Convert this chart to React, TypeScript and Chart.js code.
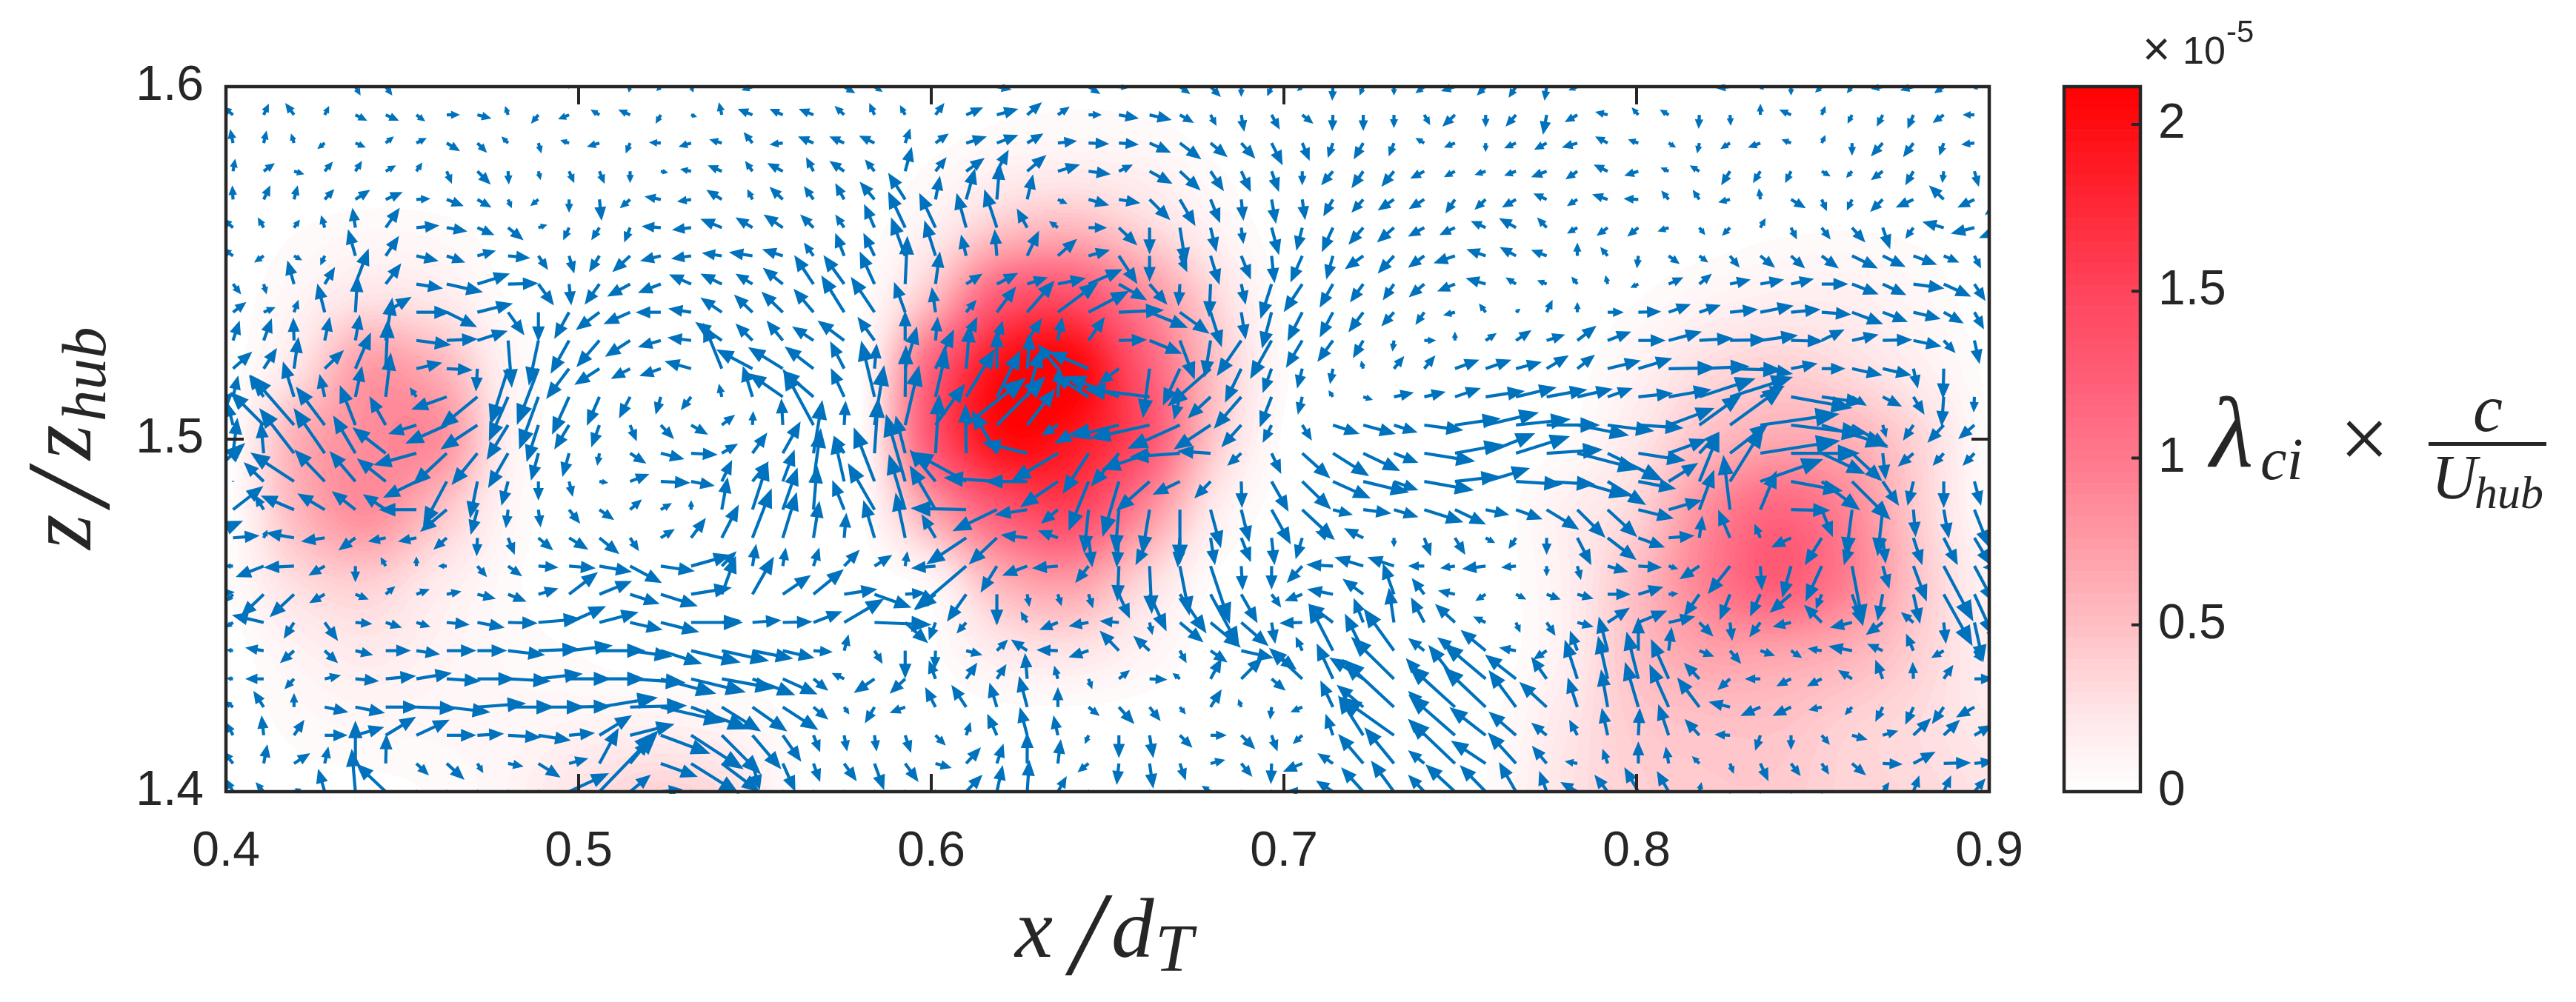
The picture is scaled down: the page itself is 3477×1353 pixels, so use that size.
import { useEffect, useRef } from "react";
import Chart from "chart.js/auto";

const W = 3477;
const H = 1353;

const xTicks = [0.4, 0.5, 0.6, 0.7, 0.8, 0.9];
const zTicks = [1.4, 1.5, 1.6];
const cbarTicks = [0, 0.5, 1, 1.5, 2];
const cbarMax = 2.113;

// colormap stops, value in 1e-5 units
const mapValues = [0, 0.25, 0.5, 0.75, 1, 1.25, 1.5, 1.75, 2, 2.113];
const mapGreens = [255, 228, 190, 155, 120, 92, 68, 40, 12, 0];
const mapBlues = [255, 230, 195, 165, 140, 118, 92, 55, 18, 0];

// vorticity field, rows from z = 1.60 down to 1.40, columns x = 0.40 .. 0.90
const heatX = [0.4, 0.42, 0.44, 0.46, 0.48, 0.5, 0.52, 0.54, 0.56, 0.58, 0.6, 0.62, 0.64, 0.66, 0.68, 0.7, 0.72, 0.74, 0.76, 0.78, 0.8, 0.82, 0.84, 0.86, 0.88, 0.9];
const heatZ = [1.6, 1.58, 1.56, 1.54, 1.52, 1.5, 1.48, 1.46, 1.44, 1.42, 1.4];
const heatRows = [
  [0, 0, 0, 0, 0, 0, 0, 0, 0, 0, 0, 0.01, 0.02, 0.01, 0, 0, 0, 0, 0, 0, 0, 0, 0, 0, 0, 0],
  [0, 0, 0, 0, 0, 0, 0, 0, 0, 0, 0.03, 0.1, 0.12, 0.1, 0.03, 0, 0, 0, 0, 0, 0, 0, 0, 0, 0, 0],
  [0, 0.03, 0.06, 0.05, 0.01, 0, 0, 0, 0, 0, 0.15, 0.45, 0.55, 0.35, 0.12, 0, 0, 0, 0, 0, 0, 0, 0.02, 0.03, 0.02, 0],
  [0, 0.1, 0.25, 0.2, 0.03, 0, 0, 0, 0, 0.02, 0.5, 1.3, 1.4, 0.9, 0.35, 0.01, 0, 0, 0, 0, 0.03, 0.1, 0.15, 0.15, 0.08, 0],
  [0, 0.25, 0.75, 0.6, 0.12, 0, 0, 0, 0, 0.03, 1.2, 2.0, 2.1, 1.3, 0.5, 0.05, 0, 0, 0, 0, 0.12, 0.3, 0.38, 0.3, 0.16, 0.02],
  [0, 0.6, 0.85, 0.85, 0.15, 0, 0, 0, 0, 0.03, 1.3, 2.0, 1.9, 1.4, 0.45, 0.02, 0, 0, 0, 0.03, 0.22, 0.5, 0.65, 0.6, 0.35, 0.03],
  [0, 0.55, 0.85, 0.5, 0.1, 0, 0, 0, 0, 0.02, 0.7, 1.3, 1.5, 0.9, 0.2, 0, 0, 0, 0, 0.15, 0.35, 0.85, 1.15, 0.9, 0.4, 0.05],
  [0.03, 0.3, 0.4, 0.2, 0.05, 0, 0, 0, 0, 0, 0.1, 0.6, 0.75, 0.35, 0.03, 0, 0, 0, 0, 0.15, 0.5, 0.95, 1.25, 0.95, 0.45, 0.12],
  [0, 0.12, 0.2, 0.12, 0.06, 0.03, 0, 0, 0, 0, 0.02, 0.2, 0.25, 0.12, 0, 0, 0, 0, 0, 0.15, 0.5, 0.7, 0.7, 0.6, 0.38, 0.15],
  [0, 0.05, 0.08, 0.08, 0.08, 0.1, 0.12, 0.1, 0.03, 0, 0, 0, 0, 0, 0, 0, 0, 0, 0.03, 0.22, 0.42, 0.48, 0.48, 0.38, 0.3, 0.2],
  [0, 0.02, 0.02, 0.04, 0.1, 0.25, 0.35, 0.3, 0.05, 0, 0, 0, 0, 0, 0, 0, 0, 0, 0.05, 0.25, 0.38, 0.42, 0.42, 0.35, 0.32, 0.25],
];

// arrow tails
const xGrid = [0.3933, 0.402, 0.4107, 0.4193, 0.428, 0.4367, 0.4453, 0.454, 0.4626, 0.4713, 0.48, 0.4886, 0.4973, 0.5059, 0.5146, 0.5233, 0.5319, 0.5406, 0.5493, 0.5579, 0.5666, 0.5753, 0.5839, 0.5926, 0.6012, 0.6099, 0.6186, 0.6272, 0.6359, 0.6446, 0.6532, 0.6619, 0.6705, 0.6792, 0.6879, 0.6965, 0.7052, 0.7139, 0.7225, 0.7312, 0.7398, 0.7485, 0.7572, 0.7658, 0.7745, 0.7832, 0.7918, 0.8005, 0.8091, 0.8178, 0.8265, 0.8351, 0.8438, 0.8525, 0.8611, 0.8698, 0.8785, 0.8871, 0.8958, 0.9044];
const zGrid = [1.6, 1.592, 1.584, 1.576, 1.568, 1.56, 1.552, 1.544, 1.536, 1.528, 1.52, 1.512, 1.504, 1.496, 1.488, 1.48, 1.472, 1.464, 1.456, 1.448, 1.44, 1.432, 1.424, 1.416, 1.408, 1.4];
const arrowScale = 1 / 4760;

// velocity pairs u,v per row (top row first), three lines: 21 + 19 + 20 columns
const uvRow00 = [
  0,0, 0,-1, 0,1, 0,1, 0,1, 7,-12, 9,-12, 0,1, 0,1, 0,1, 0,1, 0,1, -4,-1, 0,1, -2,-8, -6,-6, 3,-8, 0,1, -15,-5, 0,1, 0,1,
  15,-9, 11,-7, 0,1, 0,1, 0,1, 20,-4, 0,1, 0,1, 16,-10, 12,-2, 0,1, 14,-10, 14,-14, 0,-14, -6,-13, -7,-6, -1,-19, -5,-12, 0,-12,
  -12,-9, -19,-6, -12,-12, -10,-15, -3,-19, -12,-5, -2,-2, 0,1, 0,1, 0,1, -19,-2, 5,-4, 0,-12, -9,-8, -7,-9, -16,-3, -18,-5, -13,-9, 5,-4, 0,0,
];
const uvRow01 = [
  0,0, -14,11, 7,15, -12,16, 6,12, 16,-8, 18,-8, 12,-9, 18,0, 19,-5, -4,12, -10,-12, -15,-6, -12,7, -16,7, -7,-12, 8,-3, -4,17, -20,8, -18,8, -20,8,
  -13,12, -7,16, -7,13, 12,16, 23,10, 29,8, 20,17, 16,11, 18,0, 27,-5, 30,-7, 19,-11, 8,-15, 4,-23, 11,-20, 15,-12, -1,-22, 0,-22, 0,-18,
  8,-14, -17,-16, 0,-17, -14,-16, -5,-27, -17,-10, -17,4, -9,10, -12,7, -1,-19, 1,-15, 0,15, -16,7, 5,12, -6,-12, -8,-16, -8,-19, -15,-11, -16,0, 0,0,
];
const uvRow02 = [
  0,0, -4,19, 4,17, -4,13, -10,-8, 14,-6, 11,9, 14,7, 18,-11, 13,-13, -9,9, 4,-14, -12,4, -17,-5, -6,-14, -16,1, -17,-5, -17,5, -12,15, -18,-2, -21,9,
  -20,9, -21,10, 7,20, 18,13, 28,9, 29,11, 22,13, 26,3, 28,-1, 27,-2, 29,-13, 29,-22, 23,-19, 19,-21, 15,-30, 10,-24, -7,-20, -13,-22, -7,-18,
  -12,7, -15,-6, 0,-12, -16,-7, -17,-9, -21,-6, -17,9, -14,5, 10,-6, -3,-14, -13,-8, -17,-6, -13,5, 5,11, 0,-17, -16,-18, -14,-19, -6,-17, -18,-2, 0,0,
];
const uvRow03 = [
  0,0, 3,17, 15,11, 14,-4, 11,13, 9,14, 14,8, 8,12, 7,-17, 18,-18, 1,-18, 3,-12, 7,-16, 7,-17, 0,-16, 10,-2, -15,3, -19,8, -10,14, -21,11, -10,19,
  -20,14, -13,16, 9,33, 15,19, 25,18, 16,29, 26,22, 30,9, 30,-4, 19,9, 31,-17, 28,-26, 18,-27, 13,-28, 10,-28, 0,-19, -16,-19, -16,-23, -17,-21,
  -19,-10, -15,-8, -15,-5, -16,-6, -21,-8, -16,-11, -19,9, -19,-6, -11,5, -13,8, -12,-19, -10,-16, -8,-16, 12,-7, -8,-9, -16,-12, -11,-19, -2,-16, 6,-21, 0,0,
];
const uvRow04 = [
  0,0, -1,19, 9,19, 5,19, 13,14, 20,13, 23,10, 19,1, 23,-9, 19,-11, 5,-12, -11,-9, 0,-18, 3,-29, -14,-12, -22,4, -19,-3, -21,13, -7,14, -18,17, -13,18,
  -12,22, -20,24, -23,36, 6,32, 12,42, 4,49, 8,34, 13,-6, 28,-8, 29,-5, 28,-28, 21,-36, 13,-32, 3,-29, 6,-33, 4,-28, -13,-23, -16,-18, -22,-15,
  -21,-13, -13,-19, -15,-14, -19,-11, -18,8, -14,-9, -21,7, -20,1, -10,12, -9,13, -16,-4, -2,15, 20,-12, 7,-16, -7,-15, -17,-17, -24,-11, -20,19, -23,-11, -27,-21,
];
const uvRow05 = [
  0,0, -14,12, -8,14, 8,11, -5,17, -4,27, 19,27, 31,3, 28,-5, 23,-10, 21,-17, 12,4, -8,-17, -11,-17, -8,-20, -26,2, -26,-3, -29,12, -23,14, -26,18, -18,18,
  -12,18, -14,32, -23,49, -22,47, -13,47, -17,52, -14,26, -12,9, 25,0, 25,-24, 0,-36, 8,-50, 8,-33, 3,-22, 10,-37, -8,-31, -15,-33, -20,-23, -23,-20,
  -22,-12, -21,-10, -20,9, -23,13, -13,14, -14,-8, -15,-11, -15,-12, -15,-5, 8,-10, -11,-11, 7,13, 8,-16, 12,-16, 18,-20, 10,-29, -11,-15, -29,8, -32,-8, -35,-14,
];
const uvRow06 = [
  0,0, -14,10, -13,-9, 11,-6, -6,-13, -10,36, 18,27, 30,-7, 25,-9, 25,7, 30,-3, 13,-19, 7,-24, -14,-22, -24,-22, -28,-7, -27,-4, -27,4, -32,5, -28,9, -13,18,
  -12,31, -15,31, -19,52, -15,48, -7,29, -3,36, 16,34, 26,23, 29,8, 25,-38, 0,-35, 10,-22, 12,-39, 13,-32, 4,-37, -16,-36, -9,-32, -25,-18, -22,-24,
  -22,-16, -29,-10, -26,9, -22,12, -21,8, 0,18, -10,12, -2,-17, 15,-11, 12,-9, 13,-16, 20,-16, 19,-17, 23,-17, 35,-17, 31,-15, 32,-12, 21,-9, 9,-17, 0,0,
];
const uvRow07 = [
  0,0, 11,-14, 4,-14, -9,32, 14,23, 18,48, 21,28, 36,-6, 49,-11, 44,14, 41,1, 21,-29, 3,-29, -20,-28, -31,-17, -31,-12, -30,13, -29,14, -23,14, -27,22, -26,39,
  -28,39, -20,44, 3,65, 6,44, 22,14, 29,15, 28,9, 38,8, 46,20, 38,-22, 24,-28, -2,-30, -2,-45, 6,-28, -15,-47, -25,-38, -18,-32, -18,-25, -15,-22,
  -21,-18, -24,-10, -27,8, -14,9, -13,5, -8,10, -3,12, -11,-5, 20,9, 17,14, 28,6, 32,6, 31,7, 36,0, 36,-14, 32,-15, 42,-6, 37,-17, 15,-23, 0,0,
];
const uvRow08 = [
  0,0, 18,14, 16,7, 6,17, -10,39, 3,50, 35,21, 46,0, 41,-20, 48,12, 22,-31, 0,-40, -20,-36, -32,-24, -36,-16, -34,0, -31,5, -29,20, -25,24, -29,28, -27,32,
  -31,50, -32,48, -15,41, -5,34, 14,17, 26,35, 37,43, 55,41, 55,29, 61,3, 52,-21, 40,-29, 15,-47, 6,-37, -13,-49, -20,-39, -18,-34, -20,-27, -17,-19,
  -12,-17, -16,-4, -9,12, 6,5, 8,17, 0,14, 22,0, 31,1, 30,11, 29,10, 38,4, 45,9, 40,4, 40,-3, 42,-16, 34,-13, 37,-9, 27,-15, 13,-23, 0,0,
];
const uvRow09 = [
  0,0, 9,27, 11,30, -1,31, 7,32, 6,35, 9,58, 47,-6, 42,2, 41,13, 5,-64, -13,-61, -25,-45, -31,-36, -34,-22, -31,-9, -32,4, -36,25, -23,23, -22,27, -29,19,
  -36,27, -23,32, 0,40, 3,32, 15,32, 8,27, 20,30, 6,32, 22,32, 38,1, 44,-18, 20,-53, -8,-50, -33,-48, -29,-52, -22,-37, -21,-29, -14,-24, -2,-15,
  16,0, 0,12, 15,10, 21,14, 25,8, 26,20, 32,12, 37,0, 45,12, 46,3, 50,1, 51,7, 44,-1, 31,15, 36,8, 40,1, 38,-8, 16,-17, 7,-32, 0,0,
];
const uvRow10 = [
  0,0, 26,23, 18,28, 6,43, 26,25, 21,49, 3,67, 35,8, 35,-2, -2,-31, -24,-76, -29,-76, -31,-41, -34,-22, -26,-14, -29,-10, -36,10, -25,62, -49,26, -47,29, -39,30,
  -19,37, 3,34, 16,57, 25,53, 5,60, 0,52, 4,48, -27,33, -54,23, -28,-21, -9,-67, -23,-50, -58,-51, -22,-46, -12,-33, -7,-27, -4,-21, -3,11, 14,17,
  15,18, 33,12, 35,12, 35,9, 30,18, 24,19, 45,11, 46,14, 64,1, 68,3, 71,-2, 44,-7, 36,7, 32,0, 41,-9, 39,-9, 6,-27, -1,-41, 0,0, 0,0,
];
const uvRow11 = [
  0,0, 7,29, -20,30, -15,48, -7,31, 9,42, 7,60, -9,13, -48,-17, -51,-42, -26,-60, -26,-71, -23,-51, -17,-39, -15,-29, -7,-24, -14,-18, -4,18, -13,42, -46,32, -42,36,
  -18,39, -18,76, 1,70, 15,64, 39,65, 32,63, 19,65, 2,41, -47,30, -72,28, -89,11, -8,-31, -31,-29, -37,-43, -16,-41, -6,-24, -6,9, 13,-4, 27,6,
  29,7, 35,12, 53,8, 55,13, 55,10, 48,11, 34,12, 47,5, 58,10, 76,25, 85,27, 33,15, 83,-15, 57,-8, 20,-12, 26,-13, 15,-24, -3,-40, -1,-21, 0,0,
];
const uvRow12 = [
  42,45, -8,31, -45,45, -59,68, -39,52, -21,54, -22,39, -38,-12, -56,-25, -50,-33, -29,-47, -16,-50, -20,-33, -11,-30, 9,-22, 18,-19, 23,-13, 18,14, 1,19, -2,36, -41,76,
  2,33, 13,81, 19,81, 40,56, 81,64, 66,66, 38,49, -22,-14, -46,-25, -64,-16, -81,-18, -71,-32, -50,-33, -27,-30, -12,-24, 13,-21, 36,-12, 44,-12, 32,-10,
  53,-7, 62,9, 72,17, 74,8, 72,0, 70,-14, 63,-8, 61,-4, 62,23, 57,41, 73,53, 107,15, 100,-12, 90,-28, 49,-31, 5,-17, -14,-21, -22,-24, -22,-19, 0,0,
];
const uvRow13 = [
  0,0, 6,48, -4,42, -47,61, -42,61, -30,51, -45,35, -58,-16, -46,-43, -35,-43, -27,-47, -10,-37, -9,-32, -3,-17, 22,-14, 32,-8, 36,-2, 22,13, 20,28, 24,43, 12,72,
  -13,23, 5,75, -13,51, 5,80, -1,67, -34,58, -61,15, -63,-38, -35,-55, -38,-45, -65,-22, -68,-5, -45,3, -19,-17, 13,-28, 38,-34, 49,-31, 50,-24, 33,-13,
  69,-11, 65,12, 67,27, 73,23, 76,5, 84,-22, 75,-37, 64,-10, 52,19, 27,29, 52,40, 108,17, 93,0, 59,-28, 41,-38, 4,-36, -21,-18, -15,-17, -16,-17, 0,0,
];
const uvRow14 = [
  58,52, 0,1, -27,26, -59,39, -41,43, -35,41, -39,31, -45,-22, -32,-60, -10,-50, -9,-33, 0,-26, 5,-21, 12,-2, 26,10, 40,-2, 32,-6, 14,29, 22,27, 16,43, 10,72,
  -14,62, -28,73, -26,91, -35,43, -73,40, -72,5, -57,0, -51,-35, -27,-67, -22,-75, -45,-40, -37,-18, -22,-23, 1,-36, 23,-41, 39,-38, 51,-23, 62,-15, 33,-12,
  67,-12, 60,7, 60,18, 63,-4, 66,-4, 70,-20, 52,-32, 51,-10, 40,25, 27,67, 46,74, 85,30, 70,-13, 52,-39, 52,-52, 22,-33, -8,-33, 0,-36, 9,-33, 0,0,
];
const uvRow15 = [
  30,30, 41,32, -12,20, -45,19, -37,22, -32,25, -31,21, -51,0, -36,-30, -9,-34, -3,-25, 3,-24, 15,-19, 20,-14, 16,14, 15,9, 0,13, 8,44, 21,65, 20,57, 5,60,
  -16,40, -36,63, -22,75, -35,60, -75,2, -60,-29, -44,-7, -23,-19, -6,-59, -5,-58, -10,-60, 0,-74, 14,-52, 11,-44, 26,-47, 44,-41, 27,-7, 38,-5, 33,-10,
  53,-17, 42,-20, 32,-7, 36,-13, 44,-27, 38,-38, 40,-37, 48,-12, 45,13, 20,54, -9,74, 22,53, 53,-1, 15,-37, -8,-62, -7,-63, 3,-37, 7,-39, 20,-51, 0,0,
];
const uvRow16 = [
  55,23, 36,3, 5,11, -38,7, -32,-5, -23,-17, -24,-5, -25,-5, -18,-16, -1,-25, 9,-23, 20,-17, 26,-16, 27,-22, 12,-18, 19,12, 20,27, 23,45, 26,67, 19,62, 8,50,
  3,34, -15,51, -13,61, -19,32, -54,-36, -38,-36, -36,4, -27,10, 5,-40, -3,-40, -19,-37, -3,-40, 6,-37, 13,-33, 4,-37, -9,-29, -24,9, -26,13, 0,-13,
  9,-25, 14,-23, 13,-7, -10,-15, 0,-23, 19,-37, 39,-30, 36,-13, 35,3, 4,30, -16,38, -8,19, -27,-13, -23,-37, -11,-37, 4,-35, 12,-37, 19,-37, 22,-37, 0,0,
];
const uvRow17 = [
  0,0, -11,0, -38,-15, -41,-2, -22,-13, 0,-22, -7,12, 0,13, -12,0, 13,-15, 19,-14, 27,-2, 36,-3, 44,-8, 43,-23, 46,-7, 54,15, 20,20, 5,30, 4,25, 8,25,
  21,22, 24,15, 3,20, -33,-3, -70,-60, -22,-36, -34,-13, -35,-3, -18,-23, -2,-48, 3,-65, 13,-67, 26,-78, 2,-33, 0,-32, -21,-23, -36,2, -39,12, -36,12,
  -22,0, -20,-3, -32,-4, -20,-2, 0,-14, 5,-19, 28,-8, 32,-2, 13,-4, -27,-18, -30,-38, 2,-33, -12,-43, -22,-48, 15,-80, 9,-31, 18,-48, 40,-75, 27,-50, -30,-2,
];
const uvRow18 = [
  44,3, -9,-10, -31,-30, -33,-31, -21,-12, 18,-7, 13,11, 18,7, 20,4, 25,-6, 25,-10, 27,8, 39,30, 44,18, 40,-13, 50,-16, 55,9, 19,52, 29,51, 38,26, 41,34,
  45,7, 50,-18, 28,2, -29,-20, -26,-37, 0,-42, 3,-17, 5,-16, 6,-19, 15,-33, 23,-50, 36,-53, 39,-72, 22,-39, 13,-18, -24,-9, -35,7, -28,21, -15,42,
  -17,22, -23,5, -14,-9, 14,-7, 19,-7, 22,-6, 31,0, 34,10, 13,1, -21,-30, -14,-35, -14,-30, -29,-25, -8,-20, 15,-43, -7,-36, 9,-40, 39,-70, 26,-57, -20,-19,
];
const uvRow19 = [
  0,0, -10,-7, -43,10, -14,-22, 18,-25, 23,-2, 22,-7, 19,-6, 31,-3, 37,-7, 40,-1, 58,5, 50,22, 53,14, 44,-10, 52,-13, 70,0, 26,3, 39,3, 40,1, 39,15,
  54,32, 77,-3, 31,-28, -9,-24, -13,-15, 0,-2, -9,15, -25,-10, -27,-5, -26,2, 4,-17, 32,-27, 41,-34, 37,-32, 5,-29, -31,-1, -33,25, -13,33, -7,47,
  -18,34, -27,25, -17,8, 6,-14, 12,-18, 22,-6, 30,20, 39,16, 36,8, 19,-19, 3,-25, -15,-20, -25,-6, -24,24, -30,-7, -23,-17, -17,14, 3,-29, 12,-54, -25,-15,
];
const uvRow20 = [
  0,0, -9,1, -25,4, -19,-17, 18,-17, 24,-6, 34,0, 32,-5, 40,0, 40,0, 50,-6, 56,2, 59,7, 62,0, 57,-8, 56,-18, 67,-16, 64,-14, 55,-11, 43,-10, 26,-2,
  6,22, 11,-18, 0,-38, -1,-25, 22,-6, 15,15, -22,15, -29,1, -27,-9, -26,27, -22,20, 9,-17, 23,-16, 44,-10, 34,-26, -9,19, -33,64, -25,50, -41,57,
  -22,17, -24,18, -34,28, -23,4, -18,-12, -10,27, -12,46, 0,45, 4,32, 20,-8, 15,-18, 20,-7, 15,-10, -19,3, -32,6, -21,9, -10,23, -17,-10, 10,-15, 0,0,
];
const uvRow21 = [
  0,0, -9,1, -25,0, -13,-14, 22,5, 32,-3, 41,4, 48,8, 46,-3, 51,0, 58,-3, 60,7, 57,0, 62,0, 75,-5, 75,-20, 74,-18, 72,-13, 58,-22, 47,-21, 20,-16,
  -17,8, -28,-19, -21,-20, -9,25, 15,22, 13,20, -3,35, -5,18, 5,-14, 15,12, 24,-1, -10,8, 15,28, 29,29, 19,-16, -45,42, -22,48, -46,29, -58,57,
  -25,28, -36,46, -57,48, -42,33, -21,30, -17,53, -13,58, -16,64, -24,54, -21,22, -17,-15, -21,0, -20,-10, -20,-10, -19,12, -10,26, -1,23, 13,19, 26,0, 0,0,
];
const uvRow22 = [
  0,0, -11,8, -14,22, 0,19, 32,-7, 40,-8, 45,0, 55,-2, 59,-7, 66,5, 63,0, 63,0, 57,1, 79,13, 77,2, 88,-20, 78,-30, 53,-33, 47,-33, 48,-31, 20,-17,
  7,-10, -13,-22, -21,-8, -14,27, -20,30, -10,33, -11,42, 0,27, 15,-12, 21,-23, 15,-19, 8,-10, 15,24, -4,11, -2,-17, -16,-7, -17,36, -36,30, -70,65,
  -22,22, -63,57, -57,54, -37,50, -37,34, -13,40, -9,51, -18,61, -26,58, -30,40, -29,7, -27,-12, -25,-12, -18,-4, -10,-11, -10,-20, -11,-24, -16,-23, -25,-14, 0,0,
];
const uvRow23 = [
  0,0, -9,17, -3,27, 14,21, 31,0, 39,11, 41,25, 45,21, 40,0, 36,2, 45,-3, 44,-7, 35,3, 44,27, 60,15, 67,-25, 71,-46, 53,-53, 39,-46, 25,-36, 9,-23,
  4,-22, 3,-22, 8,-24, 14,-14, 6,18, -13,29, -10,38, -6,27, -5,-12, 0,-31, 5,-31, 17,-17, 22,0, 19,-19, 8,-22, -13,-12, -10,29, -34,54, -73,52,
  -22,22, -63,55, -49,38, -37,32, -21,17, -11,21, -8,37, 2,37, -14,42, -20,22, -21,1, -7,-21, 0,-20, 11,-13, 21,-6, 21,6, 24,23, 22,21, 24,14, 0,0,
];
const uvRow24 = [
  0,0, -14,17, 5,26, 22,14, 5,23, 0,58, 1,40, 17,-16, 24,-22, 8,-13, 21,-4, 30,-19, 26,7, 26,48, 26,32, 50,-18, 65,-41, 52,-39, 10,-36, 17,-38, 9,-25,
  17,-24, 13,-36, 18,-25, 22,-6, 20,22, 9,27, 0,42, 4,33, -15,-12, -3,-29, 5,-34, 8,-23, 20,5, 15,-18, -1,-28, -26,-11, -21,14, -34,40, -40,49,
  -22,18, -63,60, -47,31, -38,42, -20,24, -17,3, -7,20, 0,30, -4,23, -10,10, 5,-14, 11,-24, 13,-17, 10,-15, 19,-16, 27,-1, 30,16, 37,1, 26,3, 0,0,
];
const uvRow25 = [
  0,0, -9,17, -11,13, 10,4, -9,31, -5,58, -40,38, 0,3, 0,3, 0,3, 0,3, 0,3, 54,25, 80,83, 28,23, 30,3, 0,3, 0,3, 0,3, 0,3, 0,3,
  0,3, 0,3, 0,3, 0,3, 22,23, 8,36, 3,43, 12,21, 0,3, 0,3, 0,3, 0,3, -12,8, 0,3, 0,3, -19,2, -23,15, -30,33, -31,42,
  -22,23, -40,37, -35,36, -23,40, -10,28, -23,13, -18,23, -19,33, -16,28, 3,13, 0,-3, 0,-3, 0,-3, 0,-3, 0,1, 9,13, 8,22, 10,22, 15,18, 0,0,
];
const uvRows = [uvRow00, uvRow01, uvRow02, uvRow03, uvRow04, uvRow05, uvRow06, uvRow07, uvRow08, uvRow09, uvRow10, uvRow11, uvRow12, uvRow13, uvRow14, uvRow15, uvRow16, uvRow17, uvRow18, uvRow19, uvRow20, uvRow21, uvRow22, uvRow23, uvRow24, uvRow25];

const ink = "#262626";
const arrowBlue = "#0072BD";
const sans = '"Liberation Sans", Arial, sans-serif';
const serif = '"Liberation Serif", serif';

function shade(v: number) {
  const t = Math.max(0, Math.min(mapValues[mapValues.length - 1], v));
  let i = 0;
  while (i < mapValues.length - 2 && t > mapValues[i + 1]) i++;
  const f = (t - mapValues[i]) / (mapValues[i + 1] - mapValues[i]);
  return [255, mapGreens[i] + (mapGreens[i + 1] - mapGreens[i]) * f, mapBlues[i] + (mapBlues[i + 1] - mapBlues[i]) * f];
}

function catmull(a: number, b: number, c: number, d: number, t: number) {
  return b + 0.5 * t * (c - a + t * (2 * a - 5 * b + 4 * c - d + t * (3 * (b - c) + d - a)));
}

// shading interp look: cubic between cells, 64 colour levels like the colorbar
function heatAt(fx: number, fz: number) {
  const nx = heatX.length;
  const nz = heatZ.length;
  const cx = Math.max(0, Math.min(nx - 2, Math.floor(fx)));
  const cz = Math.max(0, Math.min(nz - 2, Math.floor(fz)));
  const tx = fx - cx;
  const tz = fz - cz;
  const col = [0, 0, 0, 0];
  for (let k = 0; k < 4; k++) {
    const row = heatRows[Math.max(0, Math.min(nz - 1, cz + k - 1))];
    col[k] = catmull(
      row[Math.max(0, cx - 1)],
      row[cx],
      row[cx + 1],
      row[Math.min(nx - 1, cx + 2)],
      tx
    );
  }
  return catmull(col[0], col[1], col[2], col[3], tz);
}

function put(ctx: CanvasRenderingContext2D, s: string, x: number, y: number, font: string) {
  ctx.font = font;
  ctx.fillText(s, x, y);
}

const heatPlugin = {
  id: "heat",
  beforeDatasetsDraw(chart: any) {
    const { ctx, chartArea, scales } = chart;
    const w = Math.round(chartArea.right - chartArea.left);
    const h = Math.round(chartArea.bottom - chartArea.top);
    const img = ctx.createImageData(w, h);
    const stepX = heatX[1] - heatX[0];
    const stepZ = heatZ[0] - heatZ[1];
    for (let j = 0; j < h; j++) {
      const fz = (heatZ[0] - scales.y.getValueForPixel(chartArea.top + j + 0.5)) / stepZ;
      for (let i = 0; i < w; i++) {
        const fx = (scales.x.getValueForPixel(chartArea.left + i + 0.5) - heatX[0]) / stepX;
        const v = Math.max(0, heatAt(fx, fz));
        const level = Math.min(63, Math.floor((v / cbarMax) * 64));
        const c = shade(((level + 0.5) / 64) * cbarMax);
        const p = (j * w + i) * 4;
        img.data[p] = c[0];
        img.data[p + 1] = c[1];
        img.data[p + 2] = c[2];
        img.data[p + 3] = level === 0 ? 0 : 255;
      }
    }
    ctx.putImageData(img, Math.round(chartArea.left), Math.round(chartArea.top));
  },
};

const quiverPlugin = {
  id: "quiver",
  afterDatasetsDraw(chart: any) {
    const { ctx, chartArea, scales } = chart;
    ctx.save();
    ctx.beginPath();
    ctx.rect(chartArea.left - 2, chartArea.top - 3, chartArea.right - chartArea.left + 4, chartArea.bottom - chartArea.top + 6);
    ctx.clip();
    ctx.fillStyle = arrowBlue;
    ctx.strokeStyle = arrowBlue;
    ctx.lineWidth = 4.2;
    for (const p of chart.data.datasets[0].data) {
      const x0 = scales.x.getPixelForValue(p.x);
      const y0 = scales.y.getPixelForValue(p.y);
      const x1 = scales.x.getPixelForValue(p.x + p.u * arrowScale);
      const y1 = scales.y.getPixelForValue(p.y + p.v * arrowScale);
      const len = Math.hypot(x1 - x0, y1 - y0);
      if (len < 1) continue;
      const ux = (x1 - x0) / len;
      const uy = (y1 - y0) / len;
      const head = Math.min(len * 0.62, 13 + len * 0.17);
      const half = head * 0.36 + 1.5;
      const bx = x1 - ux * head;
      const by = y1 - uy * head;
      ctx.beginPath();
      ctx.moveTo(x0, y0);
      ctx.lineTo(bx, by);
      ctx.stroke();
      ctx.beginPath();
      ctx.moveTo(x1, y1);
      ctx.lineTo(bx - uy * half - ux, by + ux * half - uy);
      ctx.lineTo(bx + uy * half - ux, by - ux * half - uy);
      ctx.closePath();
      ctx.fill();
    }
    ctx.restore();
  },
};

const framePlugin = {
  id: "frame",
  afterDraw(chart: any) {
    const { ctx, chartArea: a, scales } = chart;
    ctx.save();
    ctx.strokeStyle = ink;
    ctx.lineWidth = 4.5;
    ctx.strokeRect(a.left, a.top, a.right - a.left, a.bottom - a.top);
    ctx.lineWidth = 4;
    const tick = 24;
    ctx.beginPath();
    for (const t of xTicks) {
      const x = scales.x.getPixelForValue(t);
      ctx.moveTo(x, a.bottom);
      ctx.lineTo(x, a.bottom - tick);
      ctx.moveTo(x, a.top);
      ctx.lineTo(x, a.top + tick);
    }
    for (const t of zTicks) {
      const y = scales.y.getPixelForValue(t);
      ctx.moveTo(a.left, y);
      ctx.lineTo(a.left + tick, y);
      ctx.moveTo(a.right, y);
      ctx.lineTo(a.right - tick, y);
    }
    ctx.stroke();

    // axis labels, built from pieces because of the subscripts
    ctx.fillStyle = ink;
    ctx.textBaseline = "alphabetic";
    const it = `italic 115px ${serif}`;
    put(ctx, "x", 1370, 1292, it);
    put(ctx, "/", 1445, 1315, `italic 160px ${serif}`);
    put(ctx, "d", 1500, 1292, it);
    put(ctx, "T", 1559, 1311, `italic 92px ${serif}`);

    const rot = (s: string, x: number, y: number, font: string) => {
      ctx.save();
      ctx.translate(x, y);
      ctx.rotate(-Math.PI / 2);
      put(ctx, s, 0, 0, font);
      ctx.restore();
    };
    rot("z", 122, 742, `italic 122px ${serif}`);
    rot("/", 146, 682, `italic 160px ${serif}`);
    rot("z", 122, 621, `italic 122px ${serif}`);
    rot("hub", 142, 569, `italic 85px ${serif}`);
    ctx.restore();
  },
};

const cbarPlugin = {
  id: "cbarFrame",
  afterDraw(chart: any) {
    const { ctx, chartArea: a, scales } = chart;
    ctx.save();
    ctx.strokeStyle = ink;
    ctx.lineWidth = 4.5;
    ctx.strokeRect(a.left, a.top, a.right - a.left, a.bottom - a.top);
    ctx.lineWidth = 4;
    ctx.beginPath();
    for (const t of cbarTicks) {
      const y = scales.y.getPixelForValue(t);
      ctx.moveTo(a.right, y);
      ctx.lineTo(a.right - 12, y);
    }
    ctx.stroke();

    ctx.fillStyle = ink;
    ctx.textBaseline = "alphabetic";
    put(ctx, "\u00d7", 2892, 88, `64px ${sans}`);
    put(ctx, "10", 2946, 86, `52px ${sans}`);
    put(ctx, "-5", 3005, 57, `42px ${sans}`);

    put(ctx, "\u03bb", 2983, 630, `italic 135px ${serif}`);
    put(ctx, "ci", 3051, 647, `italic 80px ${serif}`);
    put(ctx, "\u00d7", 3158, 632, `118px ${serif}`);
    ctx.textAlign = "center";
    put(ctx, "c", 3358, 582, `italic 90px ${serif}`);
    ctx.textAlign = "left";
    ctx.fillRect(3278, 597, 159, 5);
    put(ctx, "U", 3282, 673, `italic 85px ${serif}`);
    put(ctx, "hub", 3340, 686, `italic 62px ${serif}`);
    ctx.restore();
  },
};

export default function App() {
  const mainRef = useRef<HTMLCanvasElement | null>(null);
  const cbarRef = useRef<HTMLCanvasElement | null>(null);

  useEffect(() => {
    document.body.style.margin = "0";
    if (!mainRef.current || !cbarRef.current) return;

    const points: any[] = [];
    uvRows.forEach((row, r) => {
      if (row.length !== xGrid.length * 2) throw new Error(`row ${r} has ${row.length / 2} columns`);
      xGrid.forEach((x, c) => {
        points.push({ x, y: zGrid[r], u: row[c * 2], v: row[c * 2 + 1] });
      });
    });

    const tickFont = { family: sans, size: 66 };

    const main = new Chart(mainRef.current, {
      type: "scatter",
      data: { datasets: [{ data: points, pointRadius: 0, showLine: false }] },
      options: {
        animation: false,
        responsive: false,
        devicePixelRatio: 1,
        layout: { padding: { left: 0, top: 117, right: W - 2685, bottom: 0 } },
        plugins: { legend: { display: false }, tooltip: { enabled: false } },
        scales: {
          x: {
            type: "linear",
            min: 0.4,
            max: 0.9,
            afterFit: (s: any) => { s.height = H - 1069; },
            afterBuildTicks: (s: any) => { s.ticks = xTicks.map((value) => ({ value })); },
            grid: { display: false, drawTicks: false },
            border: { display: false },
            ticks: { color: ink, font: tickFont, padding: 42, maxRotation: 0, autoSkip: false, callback: (v: any) => Number(v).toFixed(1) },
          },
          y: {
            type: "linear",
            min: 1.4,
            max: 1.6,
            afterFit: (s: any) => { s.width = 305; },
            afterBuildTicks: (s: any) => { s.ticks = zTicks.map((value) => ({ value })); },
            grid: { display: false, drawTicks: false },
            border: { display: false },
            ticks: { color: ink, font: tickFont, padding: 30, autoSkip: false, callback: (v: any) => Number(v).toFixed(1) },
          },
        },
      },
      plugins: [heatPlugin, quiverPlugin, framePlugin],
    } as any);

    // colorbar: one stacked bar per colour level
    const bands: any[] = [];
    for (let i = 0; i < 64; i++) {
      const c = shade(((i + 0.5) / 64) * cbarMax);
      bands.push({
        data: [cbarMax / 64],
        backgroundColor: `rgb(${c[0]}, ${Math.round(c[1])}, ${Math.round(c[2])})`,
        borderWidth: 0,
        categoryPercentage: 1,
        barPercentage: 1,
      });
    }
    const cbar = new Chart(cbarRef.current, {
      type: "bar",
      data: { labels: ["level"], datasets: bands },
      options: {
        animation: false,
        responsive: false,
        devicePixelRatio: 1,
        layout: { padding: { left: 2786, top: 117, right: 0, bottom: H - 1069 } },
        plugins: { legend: { display: false }, tooltip: { enabled: false } },
        scales: {
          x: { display: false, stacked: true },
          y: {
            position: "right",
            stacked: true,
            min: 0,
            max: cbarMax,
            afterFit: (s: any) => { s.width = W - 2889; },
            afterBuildTicks: (s: any) => { s.ticks = cbarTicks.map((value) => ({ value })); },
            grid: { display: false, drawTicks: false },
            border: { display: false },
            ticks: { color: ink, font: tickFont, padding: 24, autoSkip: false, callback: (v: any) => String(v) },
          },
        },
      },
      plugins: [cbarPlugin],
    } as any);

    return () => {
      main.destroy();
      cbar.destroy();
    };
  }, []);

  return (
    <div style={{ position: "relative", width: W, height: H, overflow: "hidden", background: "#fff" }}>
      <canvas ref={mainRef} width={W} height={H} style={{ position: "absolute", left: 0, top: 0 }} />
      <canvas ref={cbarRef} width={W} height={H} style={{ position: "absolute", left: 0, top: 0 }} />
    </div>
  );
}
